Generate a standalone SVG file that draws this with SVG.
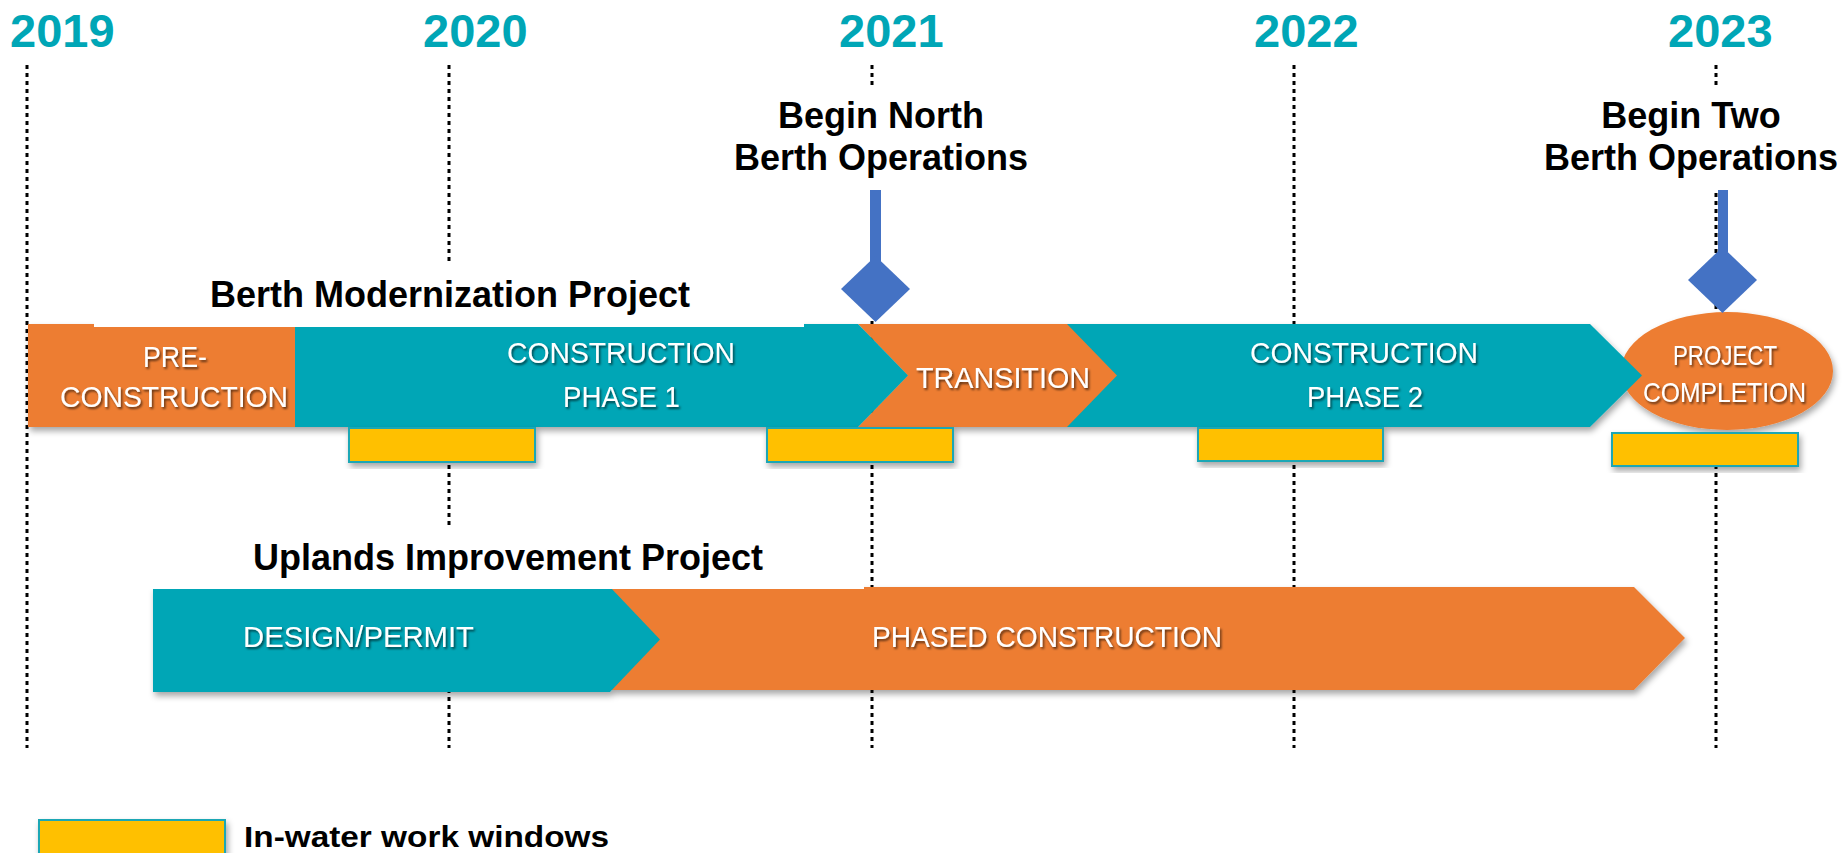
<svg xmlns="http://www.w3.org/2000/svg" width="1845" height="853" viewBox="0 0 1845 853">
<defs>
<filter id="sh" x="-5%" y="-10%" width="110%" height="130%">
<feDropShadow dx="2" dy="4" stdDeviation="3" flood-color="#000" flood-opacity="0.35"/>
</filter>
<filter id="tsh" x="-5%" y="-20%" width="110%" height="150%">
<feDropShadow dx="1.5" dy="2" stdDeviation="1" flood-color="#000" flood-opacity="0.6"/>
</filter>
</defs>
<style>
.year{font-family:"Liberation Sans",Arial,sans-serif;font-weight:bold;font-size:47px;fill:#00A6B6}
.title{font-family:"Liberation Sans",Arial,sans-serif;font-weight:bold;font-size:36px;fill:#000}
.bt{font-family:"Liberation Sans",Arial,sans-serif;font-size:30px;fill:#fff;filter:url(#tsh)}
.grid{stroke:#000;stroke-width:3;stroke-dasharray:4 4;fill:none}
.teal{fill:#00A6B6}
.orange{fill:#ED7D31}
.win{fill:#FFC000;stroke:#1AA7B5;stroke-width:2;filter:url(#sh)}
.blue{fill:#4472C4}
.cover{fill:#fff}
</style>
<rect width="1845" height="853" fill="#fff"/>
<g id="years">
<text class="year" x="10" y="47">2019</text>
<text class="year" x="423" y="47">2020</text>
<text class="year" x="839" y="47">2021</text>
<text class="year" x="1254" y="47">2022</text>
<text class="year" x="1668" y="47">2023</text>
</g>
<g id="gridlines">
<line class="grid" x1="27" y1="65" x2="27" y2="748"/>
<line class="grid" x1="449" y1="65" x2="449" y2="748"/>
<line class="grid" x1="872" y1="65" x2="872" y2="748"/>
<line class="grid" x1="1294" y1="65" x2="1294" y2="748"/>
<line class="grid" x1="1716" y1="65" x2="1716" y2="748"/>
</g>
<g id="covers">
<rect class="cover" x="720" y="85" width="320" height="105"/>
<rect class="cover" x="1535" y="85" width="310" height="105"/>
</g>
<g id="berth-bars" filter="url(#sh)">
<ellipse id="project-completion-shape" class="orange" cx="1727" cy="371" rx="106" ry="59"/>
<polygon id="phase2-shape" class="teal" points="1022,324 1590,324 1642,375.5 1590,427 1022,427"/>
<polygon id="transition-shape" class="orange" points="858,324 1067,324 1117,375.5 1067,427 858,427 908,375.5"/>
<polygon id="phase1-shape" class="teal" points="295,324 858,324 908,375.5 858,427 295,427"/>
<rect id="pre-shape" class="orange" x="28" y="324" width="267" height="103"/>
</g>
<g id="uplands-bars" filter="url(#sh)">
<polygon id="phased-shape" class="orange" points="610,587 1634,587 1685,638 1634,690 610,690"/>
<polygon id="design-shape" class="teal" points="153,587 610,587 660,639.5 610,692 153,692"/>
</g>
<rect class="cover" x="94" y="262" width="710" height="65"/>
<rect class="cover" x="100" y="525" width="764" height="64"/>
<g id="windows">
<rect class="win" x="349" y="428" width="186" height="34"/>
<rect class="win" x="767" y="428" width="186" height="34"/>
<rect class="win" x="1198" y="428" width="185" height="33"/>
<rect class="win" x="1612" y="433" width="186" height="33"/>
</g>
<g id="pre-construction">
<text class="bt" x="143" y="367" textLength="64" lengthAdjust="spacingAndGlyphs">PRE-</text>
<text class="bt" x="60" y="407" textLength="228" lengthAdjust="spacingAndGlyphs">CONSTRUCTION</text>
</g>
<g id="construction-phase-1">
<text class="bt" x="507" y="363" textLength="228" lengthAdjust="spacingAndGlyphs">CONSTRUCTION</text>
<text class="bt" x="563" y="407" textLength="117" lengthAdjust="spacingAndGlyphs">PHASE 1</text>
</g>
<g id="transition">
<text class="bt" x="916" y="388" textLength="174" lengthAdjust="spacingAndGlyphs">TRANSITION</text>
</g>
<g id="construction-phase-2">
<text class="bt" x="1250" y="363" textLength="228" lengthAdjust="spacingAndGlyphs">CONSTRUCTION</text>
<text class="bt" x="1307" y="407" textLength="116" lengthAdjust="spacingAndGlyphs">PHASE 2</text>
</g>
<g id="project-completion">
<text class="bt" x="1673" y="365" textLength="104" lengthAdjust="spacingAndGlyphs" style="font-size:28px">PROJECT</text>
<text class="bt" x="1643" y="402" textLength="163" lengthAdjust="spacingAndGlyphs" style="font-size:28px">COMPLETION</text>
</g>
<g id="design-permit">
<text class="bt" x="243" y="647" textLength="231" lengthAdjust="spacingAndGlyphs">DESIGN/PERMIT</text>
</g>
<g id="phased-construction">
<text class="bt" x="872" y="647" textLength="350" lengthAdjust="spacingAndGlyphs">PHASED CONSTRUCTION</text>
</g>
<g id="titles">
<text class="title" x="450" y="307" text-anchor="middle">Berth Modernization Project</text>
<text class="title" x="508" y="570" text-anchor="middle">Uplands Improvement Project</text>
</g>
<g id="milestone-north">
<text class="title" x="881" y="128" text-anchor="middle">Begin North</text>
<text class="title" x="881" y="170" text-anchor="middle">Berth Operations</text>
<rect class="blue" x="870" y="190" width="11" height="72"/>
<polygon class="blue" points="875.5,256 910,289 875.5,322 841,289"/>
</g>
<g id="milestone-two">
<text class="title" x="1691" y="128" text-anchor="middle">Begin Two</text>
<text class="title" x="1691" y="170" text-anchor="middle">Berth Operations</text>
<rect class="blue" x="1718" y="190" width="10" height="62"/>
<polygon class="blue" points="1722.5,247 1757,280 1722.5,313 1688,280"/>
</g>
<g id="legend">
<rect class="win" x="39" y="820" width="186" height="40"/>
<text x="244" y="847" textLength="365" lengthAdjust="spacingAndGlyphs" style="font-family:'Liberation Sans',Arial,sans-serif;font-weight:bold;font-size:30px;fill:#000">In-water work windows</text>
</g>
</svg>
